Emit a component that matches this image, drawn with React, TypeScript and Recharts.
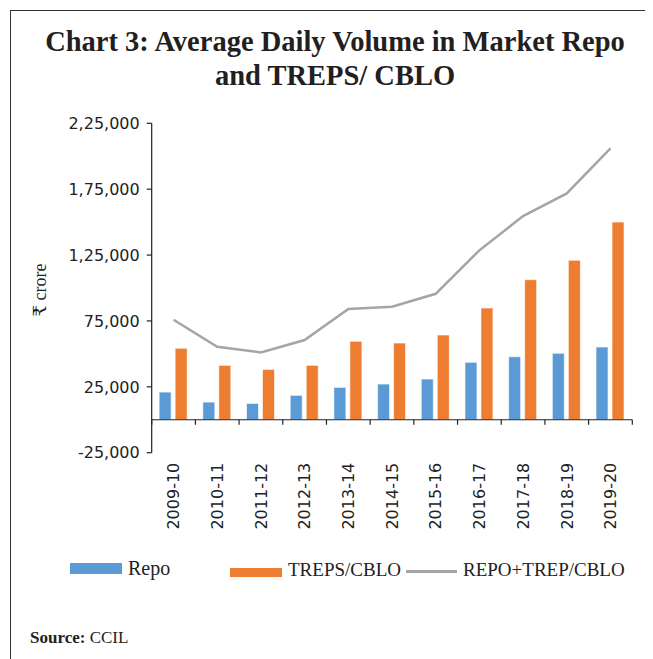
import { ComposedChart, Bar, Line, XAxis, YAxis, ReferenceLine } from "recharts";

const years = [
  "2009-10", "2010-11", "2011-12", "2012-13", "2013-14", "2014-15",
  "2015-16", "2016-17", "2017-18", "2018-19", "2019-20",
];
const repo = [21000, 13400, 12400, 18500, 24600, 27100, 30900, 43600, 47800, 50400, 55200];
const treps = [54200, 41300, 38200, 41300, 59500, 58200, 64300, 84800, 106300, 121000, 150000];
const total = [75900, 55400, 51100, 60500, 84000, 85800, 95600, 128600, 154600, 171800, 206000];
const yTicks = [-25000, 25000, 75000, 125000, 175000, 225000];

const data = years.map((year, i) => ({
  year,
  repo: repo[i],
  treps: treps[i],
  total: total[i],
}));

// Indian digit grouping: 2,25,000
function inr(v: number) {
  const neg = v < 0;
  let s = Math.abs(v).toString();
  if (s.length > 3) {
    const last3 = s.slice(-3);
    const rest = s.slice(0, -3).replace(/\B(?=(\d{2})+(?!\d))/g, ",");
    s = rest + "," + last3;
  }
  return (neg ? "-" : "") + s;
}

const serif = "'Liberation Serif', 'DejaVu Serif', 'Noto Sans', serif";
const sans = "'DejaVu Sans', sans-serif";

const XTick = (props: any) => {
  const { x, y, payload } = props;
  return (
    <g transform={`translate(${x},${y})`}>
      <text
        transform="rotate(-90)"
        textAnchor="end"
        dy="0.36em"
        fontFamily={sans}
        fontSize={16}
        fill="#222"
      >
        {payload.value}
      </text>
    </g>
  );
};

// zero line with tick marks at the category boundaries
const ZeroAxis = (props: any) => {
  const { x1, y1, x2 } = props;
  const n = years.length;
  const step = (x2 - x1) / n;
  return (
    <g>
      <line x1={x1} y1={y1} x2={x2} y2={y1} stroke="#222" strokeWidth={1.2} />
      {Array.from({ length: n + 1 }, (_, i) => (
        <line
          key={i}
          x1={x1 + i * step}
          x2={x1 + i * step}
          y1={y1}
          y2={y1 + 5}
          stroke="#222"
          strokeWidth={1.2}
        />
      ))}
    </g>
  );
};

export default function App() {
  return (
    <div style={{ position: "relative", width: 645, height: 651, background: "#fff" }}>
      <div
        style={{
          position: "absolute",
          left: 2,
          top: 2,
          right: 0,
          bottom: 0,
          borderTop: "1.5px solid #333",
          borderLeft: "1.5px solid #333",
        }}
      />
      <div
        style={{
          position: "absolute",
          left: 9,
          top: 17,
          width: 636,
          textAlign: "center",
          fontFamily: serif,
          fontWeight: "bold",
          fontSize: 28.5,
          lineHeight: "34px",
          color: "#231f20",
        }}
      >
        Chart 3: Average Daily Volume in Market Repo
        <br />
        and TREPS/ CBLO
      </div>

      <ComposedChart
        width={645}
        height={540}
        data={data}
        margin={{ top: 115.3, right: 20.7, bottom: 10.3, left: 60 }}
        barCategoryGap="17%"
        barGap={4}
        style={{ position: "absolute", left: 0, top: 0 }}
      >
        <XAxis
          dataKey="year"
          axisLine={false}
          tickLine={false}
          tickSize={6}
          tickMargin={4}
          height={85}
          interval={0}
          tick={<XTick />}
        />
        <YAxis
          width={83.7}
          domain={[-25000, 225000]}
          ticks={yTicks}
          tickFormatter={inr}
          tickSize={5}
          tickMargin={7}
          interval={0}
          axisLine={{ stroke: "#222", strokeWidth: 1.2 }}
          tickLine={{ stroke: "#222", strokeWidth: 1.2 }}
          tick={{ fontFamily: sans, fontSize: 16, fill: "#222" }}
        />
        <Bar
          dataKey="repo"
          fill="#5B9BD5"
          stroke="#ffffff"
          strokeOpacity={0.6}
          isAnimationActive={false}
        />
        <Bar
          dataKey="treps"
          fill="#ED7D31"
          stroke="#ffffff"
          strokeOpacity={0.6}
          isAnimationActive={false}
        />
        <Line
          dataKey="total"
          type="linear"
          stroke="#A5A5A5"
          strokeWidth={2.5}
          dot={false}
          activeDot={false}
          isAnimationActive={false}
        />
        <ReferenceLine y={0} shape={<ZeroAxis />} />
      </ComposedChart>

      <div
        style={{
          position: "absolute",
          left: -13,
          top: 272,
          width: 90,
          height: 20,
          lineHeight: "20px",
          textAlign: "center",
          transform: "rotate(-90deg)",
          fontFamily: serif,
          fontSize: 18,
          color: "#222",
        }}
      >
        ₹ crore
      </div>

      {/* legend */}
      <div style={{ position: "absolute", left: 62, top: 555.3, width: 51.7, height: 10.7, background: "#5B9BD5" }} />
      <div style={{ position: "absolute", left: 120, top: 549, fontFamily: serif, fontSize: 20, color: "#222" }}>Repo</div>
      <div style={{ position: "absolute", left: 222, top: 560.3, width: 51.7, height: 8.4, background: "#ED7D31" }} />
      <div style={{ position: "absolute", left: 280, top: 551, fontFamily: serif, fontSize: 19, color: "#222" }}>TREPS/CBLO</div>
      <div style={{ position: "absolute", left: 398, top: 562, width: 51, height: 2.5, background: "#A5A5A5" }} />
      <div style={{ position: "absolute", left: 455, top: 551, fontFamily: serif, fontSize: 19, color: "#222" }}>REPO+TREP/CBLO</div>

      <div style={{ position: "absolute", left: 22, top: 620, fontFamily: serif, fontSize: 17, color: "#222" }}>
        <b>Source:</b> CCIL
      </div>
    </div>
  );
}
